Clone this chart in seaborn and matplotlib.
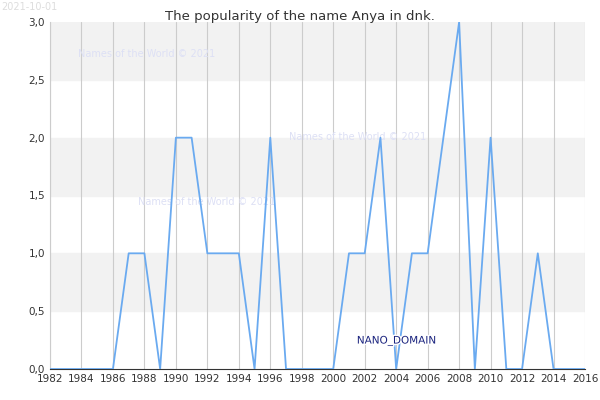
import matplotlib
matplotlib.use("Agg")
import matplotlib.pyplot as plt
import matplotlib.patheffects as pe
import seaborn as sns
import pandas as pd

years = list(range(1982, 2017))
counts = [0, 0, 0, 0, 0, 1, 1, 0, 2, 2, 1, 1, 1, 0, 2, 0, 0, 0, 0, 1,
          1, 2, 0, 1, 1, 2, 3, 0, 2, 0, 0, 1, 0, 0, 0]
xticks = list(range(1982, 2017, 2))
yticks = [0.0, 0.5, 1.0, 1.5, 2.0, 2.5, 3.0]

df = pd.DataFrame({"year": years, "count": counts})

sns.set_style("white")
fig = plt.figure(figsize=(6, 4), dpi=100)
ax = fig.add_axes([50 / 600, 31 / 400, 535 / 600, 347 / 400])

# alternating bands
for lo in (0.5, 1.5, 2.5):
    ax.axhspan(lo, lo + 0.5, color="#f2f2f2", zorder=0)
for x in xticks:
    ax.axvline(x, color="#cccccc", lw=0.8, zorder=1)

sns.lineplot(data=df, x="year", y="count", color="#6aaaf0", lw=1.3, ax=ax, zorder=3)

ax.set_xlim(1982, 2016)
ax.set_ylim(0, 3)
ax.set_xticks(xticks)
ax.set_yticks(yticks)
ax.set_yticklabels([f"{v:.1f}".replace(".", ",") for v in yticks])
ax.tick_params(labelsize=7.5, length=0, colors="#333333")
ax.set_xlabel("")
ax.set_ylabel("")
for s in ax.spines.values():
    s.set_visible(False)
ax.spines["bottom"].set_visible(True)
ax.spines["bottom"].set_color("#333333")
ax.spines["left"].set_visible(True)
ax.spines["left"].set_color("#cccccc")

fig.text(0.5, 0.975, "The popularity of the name Anya in dnk.", ha="center", va="top",
         fontsize=9.5, color="#333333")
fig.text(0.002, 0.995, "2021-10-01", ha="left", va="top", fontsize=7, color="#dddddd")

for (x, y) in [(1983.8, 2.7), (1997.2, 1.98), (1987.6, 1.42)]:
    ax.text(x, y, "Names of the World © 2021", fontsize=7, color="#dde0f5", zorder=2)

ax.text(2001.5, 0.22, "NANO_DOMAIN", fontsize=7.5, color="#1a237e", zorder=4,
        path_effects=[pe.withStroke(linewidth=2, foreground="white")])

plt.savefig("out.png", dpi=100)
